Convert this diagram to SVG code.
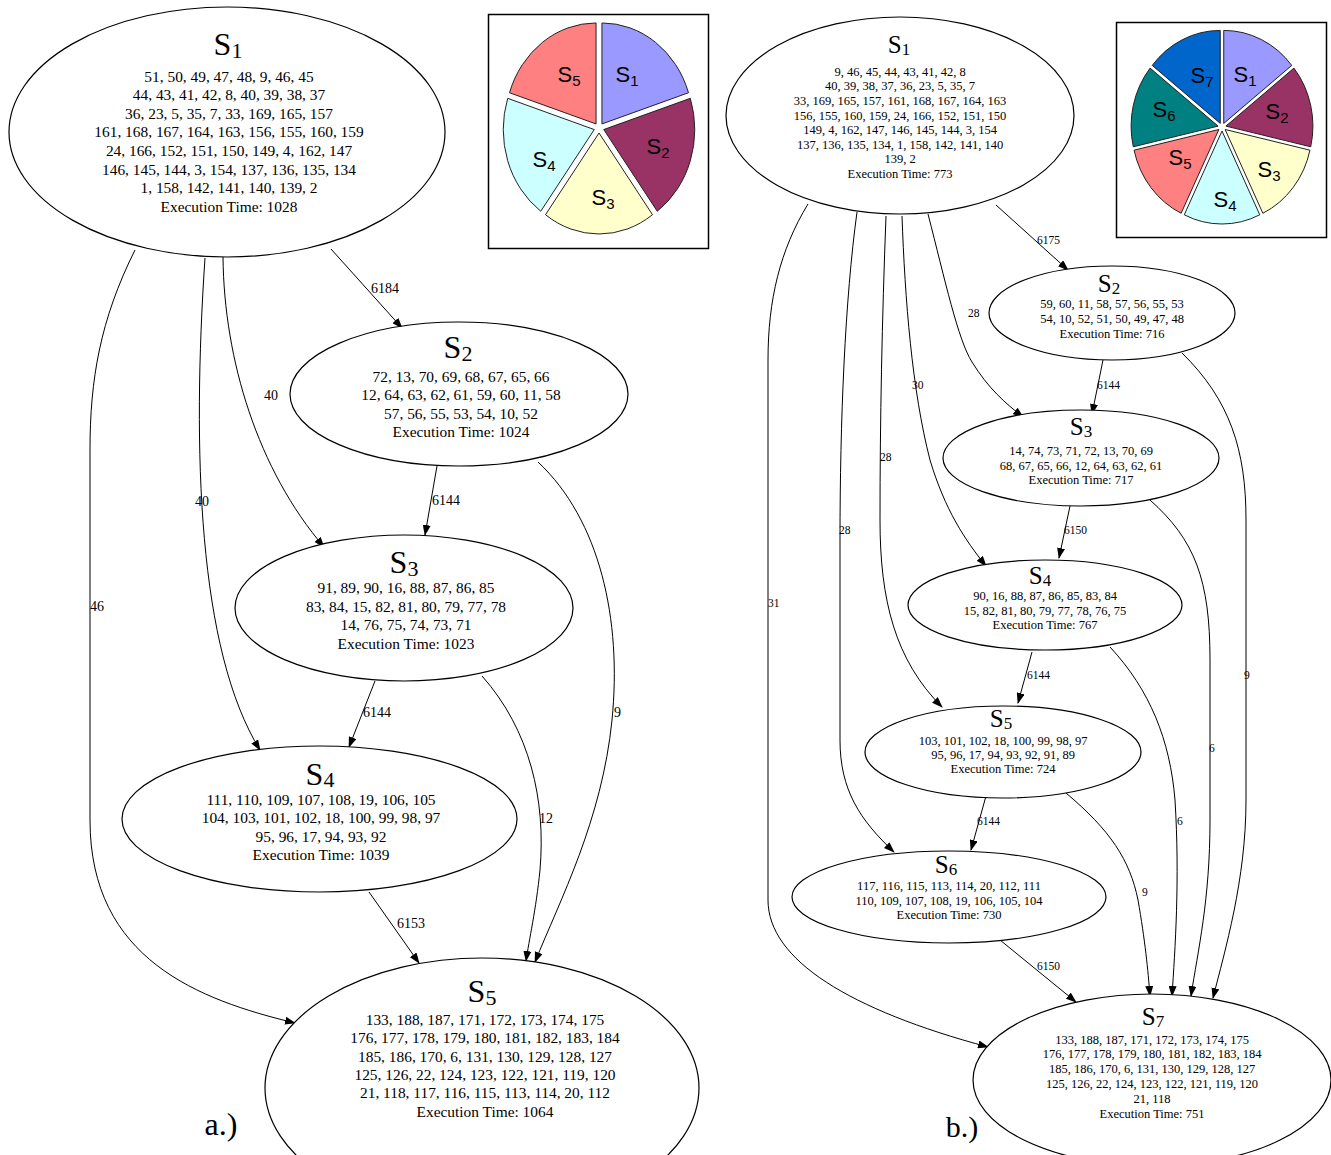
<svg xmlns="http://www.w3.org/2000/svg" width="1331" height="1155" viewBox="0 0 1331 1155">
<style>
.node ellipse{fill:#fff;stroke:#000;stroke-width:1.2}
.t{font-family:"Liberation Serif","Times New Roman",serif;fill:#000;text-anchor:middle}
.la{font-size:15.4px}
.ra{font-size:12.5px}
.ttl{font-size:32px}
.ttr{font-size:25px}
.edges path{fill:none;stroke:#000;stroke-width:1}
.el{font-family:"Liberation Serif","Times New Roman",serif;font-size:14px;fill:#000}
.er{font-family:"Liberation Serif","Times New Roman",serif;font-size:11.5px;fill:#000}
.pie path{stroke:#222;stroke-width:1}
.pl{font-family:"Liberation Sans",Arial,sans-serif;font-size:22px;fill:#000;text-anchor:middle}
.box{fill:#fff;stroke:#000;stroke-width:1.5}
</style>
<defs>
<marker id="ah" markerWidth="11" markerHeight="8" refX="10" refY="4" orient="auto" markerUnits="userSpaceOnUse">
<path d="M0,0 L11,4 L0,8 Z" fill="#000"/>
</marker>
</defs>
<rect width="1331" height="1155" fill="#fff"/>

<!-- ===== Left graph (a) ===== -->
<g class="edges" id="edges-a">
<path d="M331,249 L402,328" marker-end="url(#ah)"/>
<path d="M223,257 C224,360 258,470 324,547" marker-end="url(#ah)"/>
<path d="M205,258 C192,450 198,650 260,750" marker-end="url(#ah)"/>
<path d="M135,250 C100,320 90,380 90,450 L90,820 C90,960 200,1000 295,1023" marker-end="url(#ah)"/>
<path d="M437,466 L425,535" marker-end="url(#ah)"/>
<path d="M538,462 C600,520 622,620 612,720 C602,820 560,900 535,962" marker-end="url(#ah)"/>
<path d="M375,681 L349,747" marker-end="url(#ah)"/>
<path d="M482,676 C530,730 546,800 540,870 C536,910 529,940 526,961" marker-end="url(#ah)"/>
<path d="M369,892 L419,963" marker-end="url(#ah)"/>
</g>
<g id="edge-labels-a">
<text class="el" x="371" y="293">6184</text>
<text class="el" x="264" y="400">40</text>
<text class="el" x="195" y="506">40</text>
<text class="el" x="90" y="611">46</text>
<text class="el" x="432" y="505">6144</text>
<text class="el" x="614" y="717">9</text>
<text class="el" x="363" y="717">6144</text>
<text class="el" x="539" y="823">12</text>
<text class="el" x="397" y="928">6153</text>
</g>

<g class="node" id="a-S1">
<ellipse cx="227" cy="132" rx="218" ry="125"/>
<text class="t ttl" x="228" y="55">S<tspan font-size="22" dy="3">1</tspan></text>
<text class="t la" x="229" y="81.5">51, 50, 49, 47, 48, 9, 46, 45</text>
<text class="t la" x="229" y="100.1">44, 43, 41, 42, 8, 40, 39, 38, 37</text>
<text class="t la" x="229" y="118.7">36, 23, 5, 35, 7, 33, 169, 165, 157</text>
<text class="t la" x="229" y="137.3">161, 168, 167, 164, 163, 156, 155, 160, 159</text>
<text class="t la" x="229" y="155.9">24, 166, 152, 151, 150, 149, 4, 162, 147</text>
<text class="t la" x="229" y="174.5">146, 145, 144, 3, 154, 137, 136, 135, 134</text>
<text class="t la" x="229" y="193.1">1, 158, 142, 141, 140, 139, 2</text>
<text class="t la" x="229" y="211.7">Execution Time: 1028</text>
</g>
<g class="node" id="a-S2">
<ellipse cx="459" cy="394" rx="169" ry="72"/>
<text class="t ttl" x="458" y="358">S<tspan font-size="22" dy="3">2</tspan></text>
<text class="t la" x="461" y="381.5">72, 13, 70, 69, 68, 67, 65, 66</text>
<text class="t la" x="461" y="400">12, 64, 63, 62, 61, 59, 60, 11, 58</text>
<text class="t la" x="461" y="418.5">57, 56, 55, 53, 54, 10, 52</text>
<text class="t la" x="461" y="437">Execution Time: 1024</text>
</g>
<g class="node" id="a-S3">
<ellipse cx="404" cy="608" rx="169" ry="73"/>
<text class="t ttl" x="404" y="573">S<tspan font-size="22" dy="3">3</tspan></text>
<text class="t la" x="406" y="593">91, 89, 90, 16, 88, 87, 86, 85</text>
<text class="t la" x="406" y="611.7">83, 84, 15, 82, 81, 80, 79, 77, 78</text>
<text class="t la" x="406" y="630.3">14, 76, 75, 74, 73, 71</text>
<text class="t la" x="406" y="649">Execution Time: 1023</text>
</g>
<g class="node" id="a-S4">
<ellipse cx="319.5" cy="819" rx="197.5" ry="73"/>
<text class="t ttl" x="320" y="785">S<tspan font-size="22" dy="2">4</tspan></text>
<text class="t la" x="321" y="805">111, 110, 109, 107, 108, 19, 106, 105</text>
<text class="t la" x="321" y="823.3">104, 103, 101, 102, 18, 100, 99, 98, 97</text>
<text class="t la" x="321" y="841.7">95, 96, 17, 94, 93, 92</text>
<text class="t la" x="321" y="860">Execution Time: 1039</text>
</g>
<g class="node" id="a-S5">
<ellipse cx="482" cy="1088" rx="217" ry="130"/>
<text class="t ttl" x="482" y="1002">S<tspan font-size="22" dy="3">5</tspan></text>
<text class="t la" x="485" y="1025">133, 188, 187, 171, 172, 173, 174, 175</text>
<text class="t la" x="485" y="1043.3">176, 177, 178, 179, 180, 181, 182, 183, 184</text>
<text class="t la" x="485" y="1061.7">185, 186, 170, 6, 131, 130, 129, 128, 127</text>
<text class="t la" x="485" y="1080">125, 126, 22, 124, 123, 122, 121, 119, 120</text>
<text class="t la" x="485" y="1098.3">21, 118, 117, 116, 115, 113, 114, 20, 112</text>
<text class="t la" x="485" y="1116.7">Execution Time: 1064</text>
</g>
<text class="t" x="221" y="1135" font-size="32">a.)</text>

<!-- Pie (a) -->
<g id="pie-a">
<rect class="box" x="488.5" y="14.5" width="220" height="234"/>
<g class="pie">
<path d="M601.94,123.95 L601.94,22.95 A91,101 0 0,1 688.49,92.74 Z" fill="#9999FF"/>
<path d="M603.76,129.55 L690.31,98.34 A91,101 0 0,1 657.25,211.26 Z" fill="#993366"/>
<path d="M599,133 L652.49,214.71 A91,101 0 0,1 545.51,214.71 Z" fill="#FFFFCC"/>
<path d="M594.24,129.55 L540.75,211.26 A91,101 0 0,1 507.69,98.34 Z" fill="#CCFFFF"/>
<path d="M596.06,123.95 L509.51,92.74 A91,101 0 0,1 596.06,22.95 Z" fill="#FF8080"/>
</g>
<text class="pl" x="627" y="82">S<tspan font-size="15" dy="4">1</tspan></text>
<text class="pl" x="658" y="154">S<tspan font-size="15" dy="4">2</tspan></text>
<text class="pl" x="603" y="205">S<tspan font-size="15" dy="4">3</tspan></text>
<text class="pl" x="544" y="167">S<tspan font-size="15" dy="4">4</tspan></text>
<text class="pl" x="569" y="82">S<tspan font-size="15" dy="4">5</tspan></text>
</g>

<!-- ===== Right graph (b) ===== -->
<g class="edges" id="edges-b">
<path d="M996,205 L1068,270" marker-end="url(#ah)"/>
<path d="M928,214 C945,280 958,340 972,362 C988,388 1005,403 1023,417" marker-end="url(#ah)"/>
<path d="M902,216 C905,300 912,390 930,460 C945,510 965,540 986,566" marker-end="url(#ah)"/>
<path d="M886,216 C882,320 880,420 880,520 C880,600 895,660 942,707" marker-end="url(#ah)"/>
<path d="M857,212 C845,300 840,420 840,540 L840,740 C840,790 860,820 894,852" marker-end="url(#ah)"/>
<path d="M808,204 C780,250 768,300 768,360 L768,900 C768,960 850,1010 988,1047" marker-end="url(#ah)"/>
<path d="M1103,360 L1092,414" marker-end="url(#ah)"/>
<path d="M1182,353 C1230,400 1246,450 1246,520 L1246,800 C1246,880 1225,950 1213,998" marker-end="url(#ah)"/>
<path d="M1070,506 L1059,558" marker-end="url(#ah)"/>
<path d="M1150,500 C1195,540 1210,580 1210,660 L1210,820 C1210,900 1198,950 1191,996" marker-end="url(#ah)"/>
<path d="M1032,652 L1018,703" marker-end="url(#ah)"/>
<path d="M1110,647 C1150,690 1170,740 1175,800 C1180,880 1175,950 1172,996" marker-end="url(#ah)"/>
<path d="M1066,793 C1110,830 1130,860 1138,900 C1145,940 1148,970 1150,996" marker-end="url(#ah)"/>
<path d="M986,796 L971,850" marker-end="url(#ah)"/>
<path d="M1000,940 L1076,1002" marker-end="url(#ah)"/>
</g>
<g id="edge-labels-b">
<text class="er" x="1037" y="244">6175</text>
<text class="er" x="968" y="317">28</text>
<text class="er" x="912" y="389">30</text>
<text class="er" x="880" y="461">28</text>
<text class="er" x="839" y="534">28</text>
<text class="er" x="768" y="607">31</text>
<text class="er" x="1097" y="389">6144</text>
<text class="er" x="1244" y="679">9</text>
<text class="er" x="1064" y="534">6150</text>
<text class="er" x="1209" y="752">6</text>
<text class="er" x="1027" y="679">6144</text>
<text class="er" x="1177" y="825">6</text>
<text class="er" x="1142" y="896">9</text>
<text class="er" x="977" y="825">6144</text>
<text class="er" x="1037" y="970">6150</text>
</g>

<g class="node" id="b-S1">
<ellipse cx="900" cy="115.5" rx="174" ry="98.5"/>
<text class="t ttr" x="899" y="53">S<tspan font-size="17" dy="2">1</tspan></text>
<text class="t ra" x="900" y="75.7">9, 46, 45, 44, 43, 41, 42, 8</text>
<text class="t ra" x="900" y="90.3">40, 39, 38, 37, 36, 23, 5, 35, 7</text>
<text class="t ra" x="900" y="104.9">33, 169, 165, 157, 161, 168, 167, 164, 163</text>
<text class="t ra" x="900" y="119.5">156, 155, 160, 159, 24, 166, 152, 151, 150</text>
<text class="t ra" x="900" y="134.1">149, 4, 162, 147, 146, 145, 144, 3, 154</text>
<text class="t ra" x="900" y="148.7">137, 136, 135, 134, 1, 158, 142, 141, 140</text>
<text class="t ra" x="900" y="163.3">139, 2</text>
<text class="t ra" x="900" y="178">Execution Time: 773</text>
</g>
<g class="node" id="b-S2">
<ellipse cx="1112" cy="313" rx="123" ry="47"/>
<text class="t ttr" x="1109" y="292">S<tspan font-size="17" dy="2">2</tspan></text>
<text class="t ra" x="1112" y="308">59, 60, 11, 58, 57, 56, 55, 53</text>
<text class="t ra" x="1112" y="323">54, 10, 52, 51, 50, 49, 47, 48</text>
<text class="t ra" x="1112" y="338">Execution Time: 716</text>
</g>
<g class="node" id="b-S3">
<ellipse cx="1081" cy="458" rx="138" ry="48"/>
<text class="t ttr" x="1081" y="435">S<tspan font-size="17" dy="2">3</tspan></text>
<text class="t ra" x="1081" y="455">14, 74, 73, 71, 72, 13, 70, 69</text>
<text class="t ra" x="1081" y="469.5">68, 67, 65, 66, 12, 64, 63, 62, 61</text>
<text class="t ra" x="1081" y="484">Execution Time: 717</text>
</g>
<g class="node" id="b-S4">
<ellipse cx="1045" cy="605" rx="137" ry="45"/>
<text class="t ttr" x="1040" y="584">S<tspan font-size="17" dy="2">4</tspan></text>
<text class="t ra" x="1045" y="600">90, 16, 88, 87, 86, 85, 83, 84</text>
<text class="t ra" x="1045" y="615">15, 82, 81, 80, 79, 77, 78, 76, 75</text>
<text class="t ra" x="1045" y="629">Execution Time: 767</text>
</g>
<g class="node" id="b-S5">
<ellipse cx="1003" cy="752" rx="138" ry="46"/>
<text class="t ttr" x="1001" y="727">S<tspan font-size="17" dy="2">5</tspan></text>
<text class="t ra" x="1003" y="745">103, 101, 102, 18, 100, 99, 98, 97</text>
<text class="t ra" x="1003" y="759">95, 96, 17, 94, 93, 92, 91, 89</text>
<text class="t ra" x="1003" y="773">Execution Time: 724</text>
</g>
<g class="node" id="b-S6">
<ellipse cx="949" cy="897" rx="157" ry="46"/>
<text class="t ttr" x="946" y="873">S<tspan font-size="17" dy="2">6</tspan></text>
<text class="t ra" x="949" y="890">117, 116, 115, 113, 114, 20, 112, 111</text>
<text class="t ra" x="949" y="905">110, 109, 107, 108, 19, 106, 105, 104</text>
<text class="t ra" x="949" y="919">Execution Time: 730</text>
</g>
<g class="node" id="b-S7">
<ellipse cx="1152" cy="1080" rx="179" ry="86"/>
<text class="t ttr" x="1153" y="1025">S<tspan font-size="17" dy="2">7</tspan></text>
<text class="t ra" x="1152" y="1043.5">133, 188, 187, 171, 172, 173, 174, 175</text>
<text class="t ra" x="1152" y="1058.3">176, 177, 178, 179, 180, 181, 182, 183, 184</text>
<text class="t ra" x="1152" y="1073">185, 186, 170, 6, 131, 130, 129, 128, 127</text>
<text class="t ra" x="1152" y="1088">125, 126, 22, 124, 123, 122, 121, 119, 120</text>
<text class="t ra" x="1152" y="1102.7">21, 118</text>
<text class="t ra" x="1152" y="1117.5">Execution Time: 751</text>
</g>
<text class="t" x="962" y="1137" font-size="30">b.)</text>

<!-- Pie (b) -->
<g id="pie-b">
<rect class="box" x="1116.5" y="22.5" width="210" height="215"/>
<g class="pie">
<path d="M1223.74,123.40 L1223.74,30.40 A87,93 0 0,1 1291.76,65.41 Z" fill="#9999FF"/>
<path d="M1225.90,126.11 L1293.92,68.12 A87,93 0 0,1 1310.72,146.80 Z" fill="#993366"/>
<path d="M1225.13,129.49 L1309.95,150.18 A87,93 0 0,1 1262.88,213.28 Z" fill="#FFFFCC"/>
<path d="M1222,131 L1259.75,214.79 A87,93 0 0,1 1184.25,214.79 Z" fill="#CCFFFF"/>
<path d="M1218.87,129.49 L1181.12,213.28 A87,93 0 0,1 1134.05,150.18 Z" fill="#FF8080"/>
<path d="M1218.10,126.11 L1133.28,146.80 A87,93 0 0,1 1150.08,68.12 Z" fill="#008080"/>
<path d="M1220.26,123.40 L1152.24,65.41 A87,93 0 0,1 1220.26,30.40 Z" fill="#0066CC"/>
</g>
<text class="pl" x="1245" y="82">S<tspan font-size="15" dy="4">1</tspan></text>
<text class="pl" x="1277" y="119">S<tspan font-size="15" dy="4">2</tspan></text>
<text class="pl" x="1269" y="177">S<tspan font-size="15" dy="4">3</tspan></text>
<text class="pl" x="1225" y="207">S<tspan font-size="15" dy="4">4</tspan></text>
<text class="pl" x="1180" y="165">S<tspan font-size="15" dy="4">5</tspan></text>
<text class="pl" x="1164" y="117">S<tspan font-size="15" dy="4">6</tspan></text>
<text class="pl" x="1202" y="83">S<tspan font-size="15" dy="4">7</tspan></text>
</g>
</svg>
